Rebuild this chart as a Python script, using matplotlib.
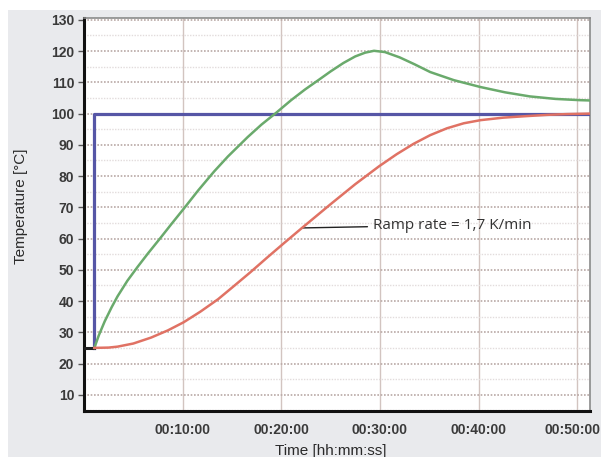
import numpy as np
import matplotlib
matplotlib.use('Agg')
import matplotlib.pyplot as plt
from matplotlib.patches import Rectangle
from matplotlib.transforms import ScaledTranslation

# minutes / degC
setpoint_t = [1.05, 1.05, 51.3]
setpoint_v = [25, 100, 100]
start_t = [0, 1.05]
start_v = [25, 25]

green_t = [1.05, 1.5, 2.1, 2.8, 3.4, 4.4, 5.45, 6.5, 7.65, 8.9, 10.1, 11.6, 13.2, 14.6,
           16.6, 18.0, 19.5, 21.0, 22.4, 23.8, 25.0, 26.3, 27.5, 28.5, 29.4, 30.5,
           32.0, 33.5, 35.1, 37.5, 40.2, 42.7, 45.2, 47.8, 50.3, 51.3]
green_v = [25, 29.0, 33.5, 38.0, 41.5, 46.5, 51.0, 55.3, 59.8, 64.8, 69.5, 75.5, 81.5, 86.3,
           92.5, 96.5, 100.3, 104.3, 107.7, 110.8, 113.5, 116.2, 118.3, 119.5, 120.1, 119.7,
           118.0, 115.8, 113.3, 110.7, 108.5, 106.8, 105.5, 104.7, 104.3, 104.2]

red_t = [1.05, 2.5, 3.4, 5.0, 6.8, 8.5, 10.1, 11.8, 13.6, 15.2, 16.9, 18.6, 20.3, 22.1,
         25.0, 27.5, 29.9, 31.7, 33.4, 35.1, 36.8, 38.5, 40.2, 42.5, 44.9, 47.0, 49.0, 51.3]
red_v = [25, 25.1, 25.4, 26.4, 28.3, 30.6, 33.2, 36.6, 40.6, 44.8, 49.3, 54.0, 58.6, 63.4,
         71.0, 77.4, 83.1, 87.0, 90.3, 93.1, 95.3, 96.9, 97.9, 98.7, 99.2, 99.6, 99.85, 100.0]

x_ticks = [10, 20, 30, 40, 50]
x_labels = ['00:10:00', '00:20:00', '00:30:00', '00:40:00', '00:50:00']
y_ticks = list(range(10, 140, 10))
y_minor = list(range(5, 135, 10))

tick_font = ['Liberation Sans Narrow', 'Liberation Sans', 'DejaVu Sans']

fig = plt.figure(figsize=(6.01, 4.57), dpi=100, facecolor='white')
bg = Rectangle((8 / 601, 0), 1, 1 - 10 / 457, transform=fig.transFigure,
               facecolor='#e9eaed', edgecolor='none', zorder=-10)
fig.patches.append(bg)
ax = fig.add_axes([84 / 601, 1 - 411 / 457, (590 - 84) / 601, (411 - 18) / 457])
ax.set_facecolor('white')

ax.plot(start_t, start_v, color='#202020', lw=2.2, zorder=4)
ax.plot(setpoint_t, setpoint_v, color='#5656a6', lw=2.3, zorder=3)
ax.plot(green_t, green_v, color='#6aaa6c', lw=1.8, zorder=4)
ax.plot(red_t, red_v, color='#e07264', lw=1.8, zorder=4)

ax.set_xlim(0, 51.3)
ax.set_ylim(4.8, 130.6)
ax.set_xticks(x_ticks)
ax.set_xticklabels(x_labels)
ax.set_yticks(y_ticks)
ax.set_yticks(y_minor, minor=True)

ax.tick_params(axis='y', length=4, width=1, color='#555555', pad=3)
ax.tick_params(axis='y', which='minor', length=0)
ax.tick_params(axis='x', length=0, pad=9)

for lab in ax.get_xticklabels() + ax.get_yticklabels():
    lab.set_family(tick_font)
    lab.set_fontweight('bold')
    lab.set_fontsize(10)
    lab.set_color('#3a3a3a')

# last time label sits right at the figure edge, nudge it in a little
last = ax.get_xticklabels()[-1]
last.set_transform(last.get_transform() + ScaledTranslation(-5 / 100, 0, fig.dpi_scale_trans))

ax.yaxis.grid(True, color='#b9a9a6', lw=1.2, linestyle=(0, (1, 1)))
ax.yaxis.grid(True, which='minor', color='#e2dcdc', lw=1.0, linestyle=(0, (1, 1)))
ax.xaxis.grid(True, color='#d2c4c0', lw=1.0, linestyle='-')
ax.set_axisbelow(True)

for s in ['left', 'bottom']:
    ax.spines[s].set_color('#111111')
    ax.spines[s].set_linewidth(2.2)
for s in ['top', 'right']:
    ax.spines[s].set_color('#8a8a8a')
    ax.spines[s].set_linewidth(1.2)

ax.set_ylabel('Temperature [°C]', fontsize=11, color='#2a2a2a',
              family=['Liberation Sans', 'DejaVu Sans'])
ax.yaxis.set_label_coords(-0.111, 0.52)
ax.set_xlabel('Time [hh:mm:ss]', fontsize=11, color='#2a2a2a',
              family=['Liberation Sans', 'DejaVu Sans'])
ax.xaxis.set_label_coords(0.487, -0.085)

ax.annotate('Ramp rate = 1,7 K/min', xy=(22.1, 63.4), xytext=(29.3, 64.3),
            fontsize=11, color='#333333', va='center', family=['Open Sans', 'DejaVu Sans'],
            arrowprops=dict(arrowstyle='-', color='#222222', lw=1.0, shrinkA=2, shrinkB=0))

fig.savefig('out.png', dpi=100, facecolor=fig.get_facecolor())
